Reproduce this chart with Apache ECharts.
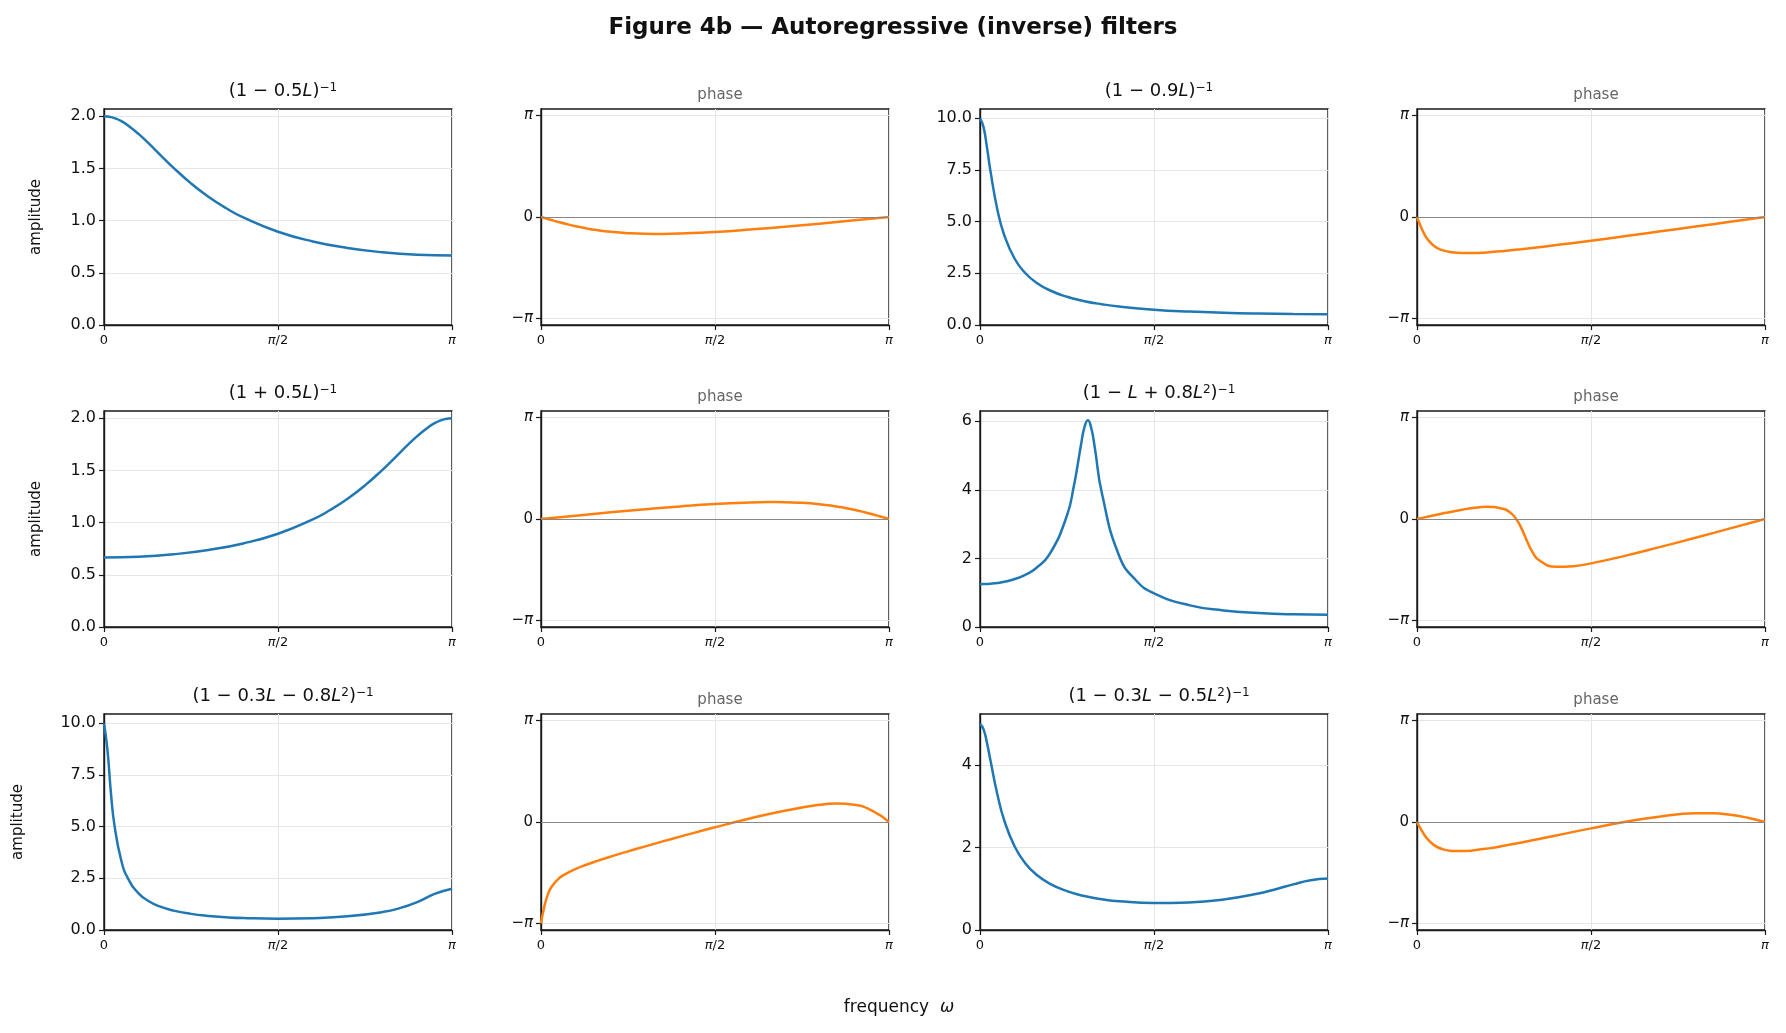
<!DOCTYPE html>
<html>
<head>
<meta charset="utf-8">
<script src="https://cdn.jsdelivr.net/npm/echarts@6/dist/echarts.min.js"></script>
<style>
html, body { margin: 0; padding: 0; background: #fff; }
#main { width: 1786px; height: 1033px; }
</style>
</head>
<body>
<div id="main"></div>
<script>
// frequency grids, in units of pi
var xA = [0, .01, .02, .03, .05, .07, .1, .13, .16, .2, .25, .3, .35, .4, .5, .6, .7, .8, .9, 1];
var x3 = [0, .1, .2, .3, .4, .5, .6, .65, .7, .75, .8, .84, .87, .9, .93, .95, .97, .98, .99, 1];
var x4 = [0, .01, .02, .03, .05, .07, .1, .13, .16, .2, .25, .27, .28, .29, .3, .31, .32, .33, .35, .4, .45, .5, .6, .7, .8, .9, 1];
var x5 = [0, .01, .02, .03, .05, .07, .1, .13, .16, .2, .25, .3, .35, .4, .5, .6, .7, .8, .85, .9, .95, 1];

var amp1 = [2.0, 1.998, 1.992, 1.983, 1.953, 1.910, 1.829, 1.735, 1.636, 1.506, 1.357, 1.229, 1.121, 1.031, .894, .801, .738, .697, .674, .667];
var ph1 = [0, -.0314, -.0626, -.0934, -.1533, -.2101, -.2866, -.3516, -.4053, -.4585, -.5005, -.5204, -.5229, -.5123, -.4636, -.3907, -.3031, -.2063, -.1043, 0];
var amp2 = [10, 9.587, 8.591, 7.456, 5.576, 4.330, 3.193, 2.515, 2.073, 1.681, 1.364, 1.153, 1.004, .893, .743, .650, .590, .553, .533, .526];
var ph2 = [0, -.2744, -.5068, -.6834, -.9032, -1.0160, -1.0927, -1.1176, -1.1171, -1.0962, -1.0517, -.9968, -.9353, -.8705, -.7328, -.5901, -.4445, -.2972, -.1488, 0];
var amp3 = [.667, .674, .697, .738, .801, .894, 1.031, 1.121, 1.229, 1.357, 1.506, 1.636, 1.735, 1.829, 1.910, 1.953, 1.983, 1.992, 1.998, 2.0];
var ph3 = [0, .1043, .2063, .3031, .3907, .4636, .5123, .5229, .5204, .5005, .4585, .4053, .3516, .2866, .2101, .1533, .0934, .0626, .0314, 0];
var amp4 = [1.25, 1.251, 1.255, 1.262, 1.285, 1.319, 1.399, 1.523, 1.708, 2.123, 3.254, 4.126, 4.690, 5.30, 5.82, 6.03, 5.79, 5.224, 3.917, 2.071, 1.342, .981, .638, .484, .407, .369, .357];
var ph4 = [0, .0236, .0471, .0705, .1169, .1623, .2276, .2872, .3373, .3757, .3073, .1808, .0719, -.0812, -.2837, -.5262, -.7728, -.9868, -1.2694, -1.4800, -1.4595, -1.3734, -1.1348, -.8639, -.5806, -.2914, 0];
var amp5 = [10, 8.699, 6.615, 5.072, 3.337, 2.461, 1.764, 1.381, 1.141, .937, .780, .681, .618, .579, .548, .572, .660, .866, 1.056, 1.349, 1.749, 2.0];
var ph5 = [-3.1416, -2.5963, -2.2343, -2.0136, -1.7631, -1.6118, -1.4515, -1.3239, -1.2110, -1.0722, -.9095, -.7533, -.6008, -.4524, -.1651, .1058, .3490, .5310, .5703, .5341, .3578, 0];
var amp6 = [5, 4.873, 4.542, 4.116, 3.286, 2.650, 2.018, 1.622, 1.359, 1.126, .942, .824, .747, .697, .654, .668, .740, .886, .990, 1.107, 1.208, 1.25];
var ph6 = [0, -.2003, -.3792, -.5257, -.7234, -.8297, -.8946, -.9017, -.8793, -.8245, -.7349, -.6331, -.5259, -.4158, -.1974, .0057, .1732, .2683, .2690, .2245, .1303, 0];

var filterTitles = [
    '(1 − 0.5{i|L}){s|−1}',
    '(1 − 0.9{i|L}){s|−1}',
    '(1 + 0.5{i|L}){s|−1}',
    '(1 − {i|L} + 0.8{i|L}{s|2}){s|−1}',
    '(1 − 0.3{i|L} − 0.8{i|L}{s|2}){s|−1}',
    '(1 − 0.3{i|L} − 0.5{i|L}{s|2}){s|−1}'
];
var filterX = [xA, xA, x3, x4, x5, x5];
var filterAmp = [amp1, amp2, amp3, amp4, amp5, amp6];
var filterPhase = [ph1, ph2, ph3, ph4, ph5, ph6];
var ampTicks = [[0, .5, 1, 1.5, 2], [0, 2.5, 5, 7.5, 10], [0, .5, 1, 1.5, 2], [0, 2, 4, 6], [0, 2.5, 5, 7.5, 10], [0, 2, 4]];
var ampMax = [2.07, 10.45, 2.07, 6.3, 10.45, 5.24];
var phaseTicks = [-Math.PI, 0, Math.PI];

var colLeft = [104, 541, 980, 1417];
var rowTop = [109, 411, 714];
var W = 348, H = 216;

var grids = [], xAxes = [], yAxes = [], series = [], titles = [];
var k = 0;

function zip(xs, ys) {
    return xs.map(function (x, i) { return [x, ys[i]]; });
}

function addPanel(left, top, isPhase, f, col) {
    grids.push({ left: left, top: top, width: W, height: H, show: true, borderColor: '#1a1a1a', borderWidth: 1.4, backgroundColor: 'transparent' });
    xAxes.push({
        type: 'value', gridIndex: k, min: 0, max: 1, interval: 0.5,
        axisLine: { show: true, onZero: false, lineStyle: { color: '#1a1a1a', width: 1.4 } },
        axisTick: { show: true, length: 5, lineStyle: { color: '#1a1a1a', width: 1.2 } },
        axisLabel: {
            color: '#111', fontSize: 13, fontFamily: 'DejaVu Sans', margin: 9,
            formatter: function (v) { return v === 0 ? '0' : (v === 0.5 ? '{i|π}/2' : '{i|π}'); },
            rich: { i: { fontStyle: 'italic', fontSize: 13, fontFamily: 'DejaVu Sans' } }
        },
        splitLine: { show: true, lineStyle: { color: '#e6e6e6', width: 1 } }
    });
    var ticks = isPhase ? phaseTicks : ampTicks[f];
    var y = {
        type: 'value', gridIndex: k,
        min: isPhase ? -3.344 : 0,
        max: isPhase ? 3.344 : ampMax[f],
        axisLine: { show: true, onZero: false, lineStyle: { color: '#1a1a1a', width: 1.4 } },
        axisTick: { show: true, length: 5, customValues: ticks, lineStyle: { color: '#1a1a1a', width: 1.2 } },
        axisLabel: {
            show: true, customValues: ticks, color: '#111', margin: 8,
            fontSize: isPhase ? 15 : 16, fontFamily: 'DejaVu Sans',
            formatter: isPhase ? function (v) { return v > 1 ? '{i|π}' : (v < -1 ? '−{i|π}' : '0'); } : function (v) { return f === 3 || f === 5 ? String(v) : v.toFixed(1); },
            rich: { i: { fontStyle: 'italic', fontSize: 15, fontFamily: 'DejaVu Sans' } }
        },
        splitLine: { show: true, lineStyle: { color: '#e6e6e6', width: 1 } }
    };
    if (col === 0) {
        y.name = 'amplitude';
        y.nameLocation = 'middle';
        y.nameGap = f === 4 ? 78 : 60;
        y.nameTextStyle = { fontSize: 15, color: '#111', fontFamily: 'DejaVu Sans' };
    }
    yAxes.push(y);
    var s = {
        type: 'line', xAxisIndex: k, yAxisIndex: k, showSymbol: false, smooth: 0.5,
        data: zip(filterX[f], isPhase ? filterPhase[f] : filterAmp[f]),
        lineStyle: { color: isPhase ? '#ff7f0e' : '#1f77b4', width: 2.5 },
        clip: true, silent: true
    };
    if (isPhase) {
        s.markLine = {
            silent: true, symbol: 'none', label: { show: false },
            lineStyle: { color: '#888', width: 1, type: 'solid' },
            data: [{ yAxis: 0 }]
        };
    }
    series.push(s);
    titles.push({
        text: isPhase ? 'phase' : filterTitles[f],
        left: left + W / 2, top: top - (isPhase ? 26 : 32), textAlign: 'center',
        textStyle: isPhase ? { fontSize: 15, fontWeight: 'normal', color: '#666', fontFamily: 'DejaVu Sans' } : {
            fontSize: 18, fontWeight: 'normal', color: '#111', fontFamily: 'DejaVu Sans',
            rich: {
                i: { fontSize: 18, fontStyle: 'italic', fontFamily: 'DejaVu Sans', color: '#111' },
                s: { fontSize: 12, verticalAlign: 'top', lineHeight: 14, fontFamily: 'DejaVu Sans', color: '#111' }
            }
        }
    });
    k++;
}

for (var r = 0; r < 3; r++) {
    for (var c = 0; c < 2; c++) {
        var f = r * 2 + c;
        addPanel(colLeft[c * 2], rowTop[r], false, f, c * 2);
        addPanel(colLeft[c * 2 + 1], rowTop[r], true, f, c * 2 + 1);
    }
}

titles.push({
    text: 'Figure 4b — Autoregressive (inverse) filters',
    left: 'center', top: 12,
    textStyle: { fontSize: 23, fontWeight: 'bold', color: '#111', fontFamily: 'DejaVu Sans' }
});
titles.push({
    text: 'frequency  {i|ω}',
    left: 894, top: 994, textAlign: 'center',
    textStyle: { fontSize: 17, fontWeight: 'normal', color: '#111', fontFamily: 'DejaVu Sans',
        rich: { i: { fontSize: 17, fontStyle: 'italic', fontFamily: 'DejaVu Sans' } } }
});

var chart = echarts.init(document.getElementById('main'));
chart.setOption({
    backgroundColor: '#fff',
    animation: false,
    title: titles,
    grid: grids,
    xAxis: xAxes,
    yAxis: yAxes,
    series: series
});
</script>
</body>
</html>
